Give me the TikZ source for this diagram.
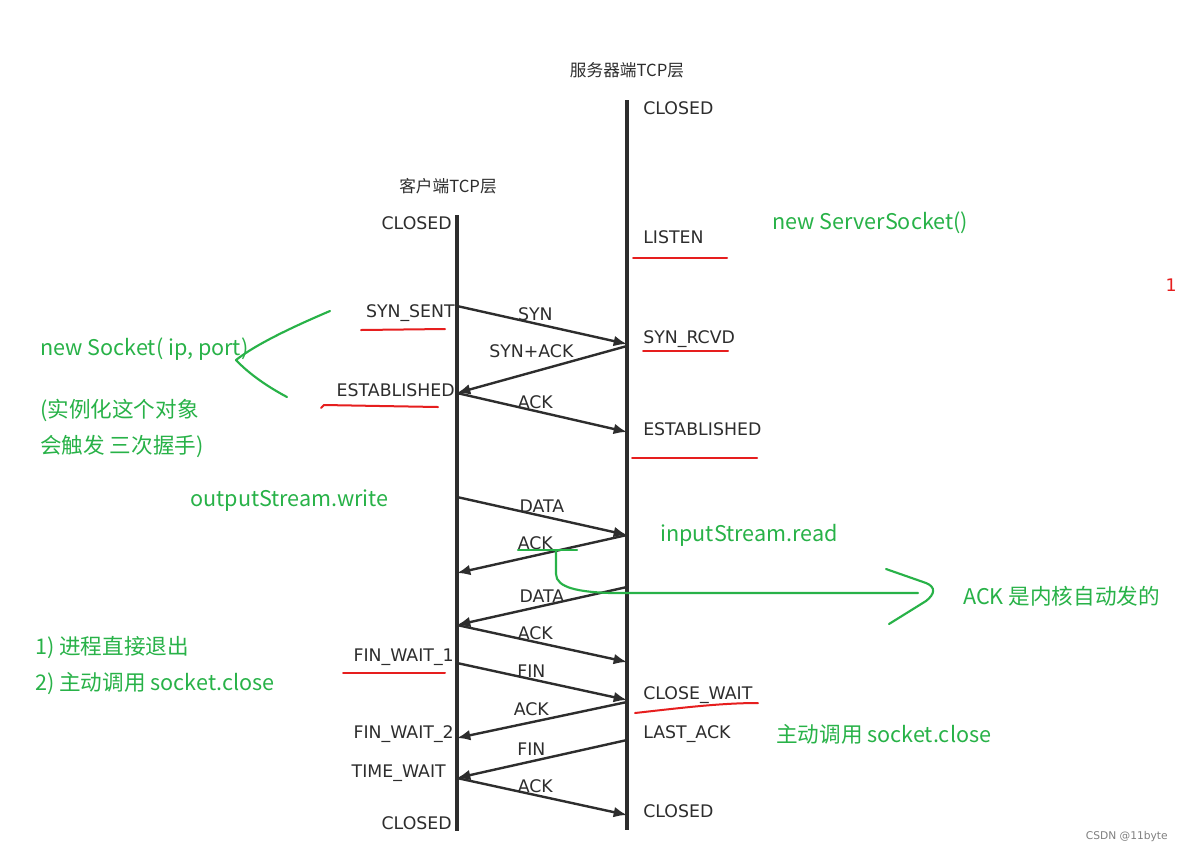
\documentclass[tikz,border=0pt]{standalone}
\usepackage{fontspec}
\usetikzlibrary{arrows.meta}
\setmainfont{DejaVu Sans}
\newfontfamily\cjk{Noto Sans CJK SC}
\definecolor{penGreen}{RGB}{40,178,72}
\definecolor{penRed}{RGB}{230,30,30}
\definecolor{inkGray}{RGB}{45,45,45}
\tikzset{
  state/.style={inner sep=0pt, text=inkGray, font=\fontsize{13}{15}\selectfont},
  msglabel/.style={midway, above, inner sep=2pt, text=inkGray, font=\fontsize{13}{15}\selectfont},
  msg/.style={-{Latex[length=10pt,width=8pt]}, line width=1.8pt, draw=inkGray},
  lifeline/.style={line width=2.8pt, draw=inkGray},
  note/.style={inner sep=0pt, anchor=west, text=penGreen, font=\cjk\fontsize{16.2}{19}\selectfont},
  redline/.style={penRed, line width=1.5pt, line cap=round},
  greenpen/.style={penGreen, line width=1.6pt, line cap=round, line join=round}
}
\begin{document}
\begin{tikzpicture}[x=0.75pt,y=-0.75pt]
        \useasboundingbox (0,0) rectangle (1178,854);
        \fill[white] (0,0) rectangle (1178,854);

        % Lifelines
        \node[text=inkGray, font=\cjk\fontsize{12.5}{14}\selectfont] (srvTitle) at (627,70) {服务器端TCP层};
        \node[text=inkGray, font=\cjk\fontsize{12.5}{14}\selectfont] (cliTitle) at (448,186) {客户端TCP层};
        \coordinate (sTop) at (627,100);
        \coordinate (sBot) at (627,830);
        \coordinate (cTop) at (457,215);
        \coordinate (cBot) at (457,831);
        \draw[lifeline] (sTop) -- (sBot);
        \draw[lifeline] (cTop) -- (cBot);

        % Server states
        \node[state, anchor=west] (sClosed) at (643,108) {CLOSED};
        \node[state, anchor=west] (sListen) at (643,237) {LISTEN};
        \node[state, anchor=west] (sSynRcvd) at (643,339) {SYN\_RCVD};
        \node[state, anchor=west] (sEstab) at (643,429) {ESTABLISHED};
        \node[state, anchor=west] (sCloseWait) at (643,695) {CLOSE\_WAIT};
        \node[state, anchor=west] (sLastAck) at (643,734) {LAST\_ACK};
        \node[state, anchor=west] (sClosedEnd) at (643,811) {CLOSED};

        % Client states
        \node[state, anchor=east] (cClosed) at (452,223) {CLOSED};
        \node[state, anchor=east] (cSynSent) at (455,313) {SYN\_SENT};
        \node[state, anchor=east] (cEstab) at (455,390) {ESTABLISHED};
        \node[state, anchor=east] (cFinWait1) at (454,657) {FIN\_WAIT\_1};
        \node[state, anchor=east] (cFinWait2) at (454,734) {FIN\_WAIT\_2};
        \node[state, anchor=east] (cTimeWait) at (446,773) {TIME\_WAIT};
        \node[state, anchor=east] (cClosedEnd) at (452,823) {CLOSED};

        % Points on the lifelines
        \coordinate (c1) at (457,306);  \coordinate (s1) at (627,344);
        \coordinate (s2) at (627,346);  \coordinate (c2) at (457,393);
        \coordinate (s3) at (627,432);
        \coordinate (c4) at (457,497);  \coordinate (s4) at (627,535);
        \coordinate (c5) at (457,573);
        \coordinate (s6) at (627,587);  \coordinate (c6) at (457,625);
        \coordinate (s7) at (627,662);
        \coordinate (c8) at (457,663);  \coordinate (s8) at (627,700);
        \coordinate (s9) at (627,702);  \coordinate (c9) at (457,738);
        \coordinate (s10) at (627,740); \coordinate (c10) at (457,778);
        \coordinate (s11) at (627,815);

        % Three-way handshake
        \draw[msg] (c1) -- (s1) node[msglabel, xshift=-5pt] {SYN};
        \draw[msg] (s2) -- (c2) node[msglabel, above=6pt, xshift=-8pt] {SYN+ACK};
        \draw[msg] (c2) -- (s3) node[msglabel, xshift=-5pt] {ACK};

        % Data transfer
        \draw[msg] (c4) -- (s4) node[msglabel] {DATA};
        \draw[msg] (s4) -- (c5) node[msglabel, xshift=-5pt] {ACK};
        \draw[msg] (s6) -- (c6) node[msglabel] {DATA};
        \draw[msg] (c6) -- (s7) node[msglabel, xshift=-5pt] {ACK};

        % Four-way close
        \draw[msg] (c8) -- (s8) node[msglabel, xshift=-8pt] {FIN};
        \draw[msg] (s9) -- (c9) node[msglabel, xshift=-8pt] {ACK};
        \draw[msg] (s10) -- (c10) node[msglabel, xshift=-8pt] {FIN};
        \draw[msg] (c10) -- (s11) node[msglabel, xshift=-5pt] {ACK};

        % Red underlines
        \draw[redline] (633,258) -- (727,258);
        \draw[redline] (361,330) -- (445,329);
        \draw[redline] (643,351) -- (728,351);
        \draw[redline] (321,408) -- (324,405) -- (380,406) -- (438,407);
        \draw[redline] (632,458) -- (757,458);
        \draw[redline] (343,673) -- (445,673);
        \draw[redline] (635,713) .. controls (680,708) and (720,703) .. (758,703);

        % Green notes
        \node[note] (nServer) at (772,223) {new ServerSocket()};
        \node[note] (nSocket) at (40,349) {new Socket( ip, port)};
        \node[note] (nInst) at (40,410) {(实例化这个对象};
        \node[note] (nShake) at (40,446) {会触发 三次握手)};
        \node[note] (nWrite) at (190,501) {outputStream.write};
        \node[note] (nRead) at (660,535) {inputStream.read};
        \node[note] (nKernel) at (963,596) {ACK 是内核自动发的};
        \node[note] (nQuit) at (35,648) {1) 进程直接退出};
        \node[note] (nClose) at (35,684) {2) 主动调用 socket.close};
        \node[note] (nSrvClose) at (776,734) {主动调用 socket.close};

        % Green pen strokes
        \draw[greenpen] (330,311) .. controls (290,328) and (255,345) .. (236,360)
                        .. controls (250,375) and (270,388) .. (287,397);
        \draw[greenpen] (518,550) -- (577,550);
        \draw[greenpen] (556,551) -- (556,574) .. controls (556,588) and (580,592) .. (610,593) -- (918,593);
        \draw[greenpen] (886,569) -- (926,583) .. controls (936,587) and (935,594) .. (926,601) -- (889,624);

        % Margin marks
        \node[anchor=east, inner sep=0pt, text=penRed, font=\fontsize{13}{15}\selectfont] (mOne) at (1177,285) {1};
        \node[anchor=east, inner sep=0pt, text=gray, font=\fontsize{8}{10}\selectfont] (wMark) at (1168,837) {CSDN @11byte};
    \end{tikzpicture}
\end{document}
